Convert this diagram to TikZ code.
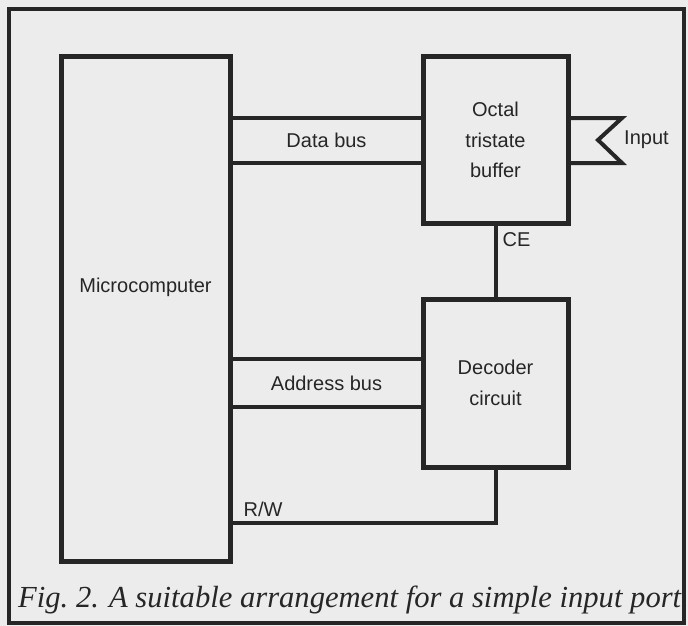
\documentclass[tikz,border=0pt]{standalone}
\usepackage{fontspec}
\setsansfont{Liberation Sans}
\setmainfont{Liberation Serif}
\usetikzlibrary{calc}
\definecolor{papier}{HTML}{ECECEC}
\definecolor{tinte}{HTML}{262626}
\newcommand{\lbl}{\sffamily\fontsize{20}{30.5}\selectfont}
\tikzset{
  block/.style={draw=tinte,line width=5pt,align=center,inner sep=0pt,font=\lbl,text=tinte},
  bus/.style={draw=tinte,line width=4pt,line join=miter},
  busname/.style={font=\lbl,text=tinte,inner sep=2pt},
  rahmen/.style={draw=tinte,line width=4pt},
}

\begin{document}
\begin{tikzpicture}[x=1pt,y=-1pt]
  \fill[papier] (0,0) rectangle (688,626);
  \useasboundingbox (0,0) rectangle (688,626);
  \draw[rahmen] (9,9) rectangle (684,623);
  \node[block,minimum width=169,minimum height=504] (micro) at (145.5,309) {};
  \node[busname] (microname) at ([yshift=22pt]micro.center) {Microcomputer};
  \node[block,minimum width=145,minimum height=166] (buffer) at (495.5,140) {Octal\\tristate\\buffer};
  \node[block,minimum width=145,minimum height=168] (decoder) at (495.5,383) {Decoder\\circuit};
  \coordinate (db1) at (0,118);
  \coordinate (db2) at (0,163);
  \coordinate (ab1) at (0,359);
  \coordinate (ab2) at (0,407);
  \coordinate (rw) at (0,523);
  \coordinate (tip1) at (622,118);
  \coordinate (notch) at (598,140);
  \coordinate (tip2) at (622,163);
  \draw[bus] (micro.east |- db1) -- (buffer.west |- db1);
  \draw[bus] (micro.east |- db2) -- (buffer.west |- db2);
  \node[busname] (dbname) at ($(micro.east |- db1)!0.5!(buffer.west |- db2)$) {Data bus};
  \draw[bus] (micro.east |- ab1) -- (decoder.west |- ab1);
  \draw[bus] (micro.east |- ab2) -- (decoder.west |- ab2);
  \node[busname] (abname) at ($(micro.east |- ab1)!0.5!(decoder.west |- ab2)$) {Address bus};
  \draw[bus] (buffer.east |- db1) -- (tip1) -- (notch) -- (tip2) -- (buffer.east |- db2);
  \node[busname,anchor=west] (inname) at (tip1 |- notch) {Input};
  \draw[bus] (buffer.south) -- (decoder.north);
  \node[busname,anchor=north west] (cename) at ([xshift=5pt,yshift=-5pt]buffer.south) {CE};
  \draw[bus] (decoder.south) -- (decoder.south |- rw) -- (micro.east |- rw);
  \node[busname,anchor=south west] (rwname) at ([xshift=9pt,yshift=4pt]micro.east |- rw) {R/W};
  \node[anchor=base west,inner sep=0pt,text=tinte,font=\rmfamily\itshape\fontsize{30.6}{34}\selectfont] (caption) at (18,607) {Fig.~2. A suitable arrangement for a simple input port};
\end{tikzpicture}
\end{document}
